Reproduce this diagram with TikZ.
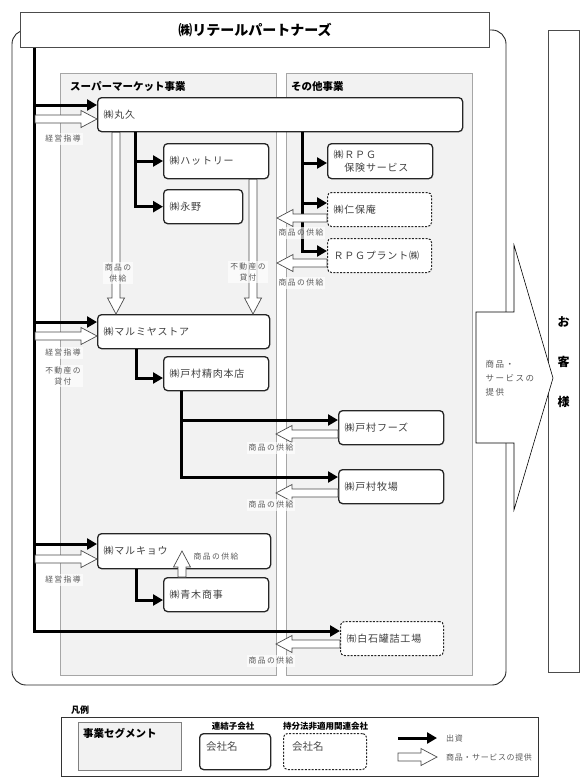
\documentclass[tikz,border=0pt]{standalone}
\usepackage{fontspec}
\setmainfont{Noto Sans CJK JP}
\newfontfamily\cofont[LetterSpace=8]{Noto Sans CJK JP}
\newfontfamily\lbfont[LetterSpace=18]{Noto Sans CJK JP}
\usetikzlibrary{arrows.meta,calc}
\definecolor{panelgray}{HTML}{F2F2F2}
\definecolor{paneledge}{HTML}{A6A6A6}
\tikzset{
  co/.style={draw=black!85, line width=1.3pt, rounded corners=4pt, fill=white,
    anchor=north west, inner xsep=6pt, inner ysep=0pt, align=left,
    font=\cofont\fontsize{10}{13}\selectfont, text=black!75},
  eq/.style={co, dash pattern=on 2pt off 1.4pt, line width=1pt},
  panel/.style={draw=paneledge, line width=0.8pt, fill=panelgray, anchor=north west, inner sep=0pt},
  seglbl/.style={anchor=west, inner sep=2pt, font=\bfseries\fontsize{10.5}{12}\selectfont},
  lbl/.style={font=\lbfont\fontsize{7.8}{11}\selectfont, text=black!65, fill=white,
    fill opacity=0.65, text opacity=1, inner sep=2pt, align=center},
  leglbl/.style={anchor=west, inner sep=1pt, font=\cofont\fontsize{8}{10}\selectfont, text=black!65},
  inv/.style={line width=3pt, -{Triangle[length=10pt,width=11pt]}},
  hollowline/.style={draw=black!70, line width=0.7pt, fill=white, line join=miter},
}
\newcommand\harr[2]{%
  \coordinate (hA) at (#1);
  \coordinate (hB) at (#2);
  \coordinate (hH) at ($(hB)!16pt!(hA)$);
  \draw[hollowline] ($(hA)!4pt!90:(hB)$) -- ($(hH)!4pt!-90:(hA)$) -- ($(hH)!8.5pt!-90:(hA)$)
    -- (hB) -- ($(hH)!8.5pt!90:(hA)$) -- ($(hH)!4pt!90:(hA)$) -- ($(hA)!4pt!-90:(hB)$) -- cycle;
}
\begin{document}
\begin{tikzpicture}[x=1pt,y=-1pt]
\useasboundingbox (0,0) rectangle (587,782);
% outer group frame
\draw[line width=0.9pt, rounded corners=14pt, draw=black!85] (12,30) rectangle (506,685);
% segment panels
\node[panel, minimum width=216, minimum height=602] (smpanel) at (60,73) {};
\node[panel, minimum width=186, minimum height=602] (otpanel) at (286,73) {};
\node[seglbl] (smlbl) at (68,87) {スーパーマーケット事業};
\node[seglbl] (otlbl) at (289,87) {その他事業};
% title
\node[draw=black!70, fill=white, line width=0.8pt, minimum width=469, minimum height=35,
  anchor=north west, font=\bfseries\fontsize{14}{16}\selectfont] (title) at (20,12) {㈱リテールパートナーズ};
% customers
\node[draw=black!70, line width=0.8pt, minimum width=31, minimum height=642, anchor=north west, inner sep=0pt] (cust) at (548,30) {};
\node[align=center, font=\bfseries\fontsize{12}{40}\selectfont] (custtxt) at (563.5,362) {お\\客\\様};
% big arrow to customers
\draw[line width=0.6pt, fill=white] (476,312) -- (514,312) -- (514,245) -- (553,378) -- (514,510) -- (514,443) -- (476,443) -- cycle;
\node[anchor=west, align=left, font=\lbfont\fontsize{8.5}{14}\selectfont, text=black!65] (prov) at (482,378) {商品・\\サービスの\\提供};
% companies
\node[co, minimum width=365, minimum height=34, text width=353] (maruhisa) at (97,97) {㈱丸久};
\node[co, minimum width=105, minimum height=35, text width=93] (hattori) at (163,143) {㈱ハットリー};
\node[co, minimum width=79, minimum height=34, text width=67] (nagano) at (163,189) {㈱永野};
\node[co, minimum width=172, minimum height=34, text width=160] (marumiya) at (97,314) {㈱マルミヤストア};
\node[co, minimum width=105, minimum height=34, text width=93] (seiniku) at (163,356) {㈱戸村精肉本店};
\node[co, minimum width=105, minimum height=34, text width=93] (foods) at (338,410) {㈱戸村フーズ};
\node[co, minimum width=105, minimum height=34, text width=93] (bokujo) at (338,469) {㈱戸村牧場};
\node[co, minimum width=173, minimum height=35, text width=161] (marukyo) at (97,533) {㈱マルキョウ};
\node[co, minimum width=105, minimum height=34, text width=93] (aoki) at (163,577) {㈱青木商事};
\node[co, minimum width=105, minimum height=35, text width=93] (rpg) at (327,143) {㈱ＲＰＧ\\　保険サービス};
\node[eq, minimum width=104, minimum height=34, text width=92] (jinboan) at (327,192) {㈱仁保庵};
\node[eq, minimum width=104, minimum height=34, text width=92] (plant) at (327,238) {ＲＰＧプラント㈱};
\node[eq, minimum width=103, minimum height=34, text width=91] (shiraishi) at (340,621) {㈲白石罐詰工場};
% investment lines
\coordinate (tx) at (34,0);
\coordinate (bx1) at (135,0);
\coordinate (bx2) at (302,0);
\coordinate (bx3) at (136,0);
\coordinate (bx4) at (181,0);
\draw[inv] (title.south -| tx) |- (shiraishi.west |- 0,631);
\draw[inv] (tx |- 0,105) -- (maruhisa.west |- 0,105);
\draw[inv] (tx |- 0,322) -- (marumiya.west |- 0,322);
\draw[inv] (tx |- 0,544) -- (marukyo.west |- 0,544);
\draw[inv] (maruhisa.south -| bx1) |- (nagano.west);
\draw[inv] (bx1 |- 0,161) -- (hattori.west |- 0,161);
\draw[inv] (maruhisa.south -| bx2) |- (plant.west |- 0,251);
\draw[inv] (bx2 |- 0,163) -- (rpg.west |- 0,163);
\draw[inv] (bx2 |- 0,203) -- (jinboan.west |- 0,203);
\draw[inv] (marumiya.south -| bx3) |- (seiniku.west |- 0,378);
\draw[inv] (seiniku.south -| bx4) |- (bokujo.west |- 0,477);
\draw[inv] (bx4 |- 0,420) -- (foods.west |- 0,420);
\draw[inv] (marukyo.south -| bx3) |- (aoki.west |- 0,600);
% supply / service arrows
\harr{35,119}{maruhisa.west |- 0,119}
\harr{35,336}{marumiya.west |- 0,336}
\harr{35,559}{marukyo.west |- 0,559}
\harr{maruhisa.south -| 116,0}{marumiya.north -| 116,0}
\harr{hattori.south -| 253,0}{marumiya.north -| 253,0}
\harr{jinboan.west |- 0,218}{277,218}
\harr{plant.west |- 0,263}{277,263}
\harr{foods.west |- 0,434}{276,434}
\harr{bokujo.west |- 0,493}{276,493}
\harr{shiraishi.west |- 0,644}{276,644}
\harr{aoki.north -| 182,0}{182,551}
% labels
\node[lbl] (lk1) at (63,139) {経営指導};
\node[lbl] (lk2) at (63,353) {経営指導};
\node[lbl] (lk3) at (63,376) {不動産の\\貸付};
\node[lbl] (lk4) at (63,580) {経営指導};
\node[lbl] (ls1) at (118,273) {商品の\\供給};
\node[lbl] (ls2) at (248,272) {不動産の\\貸付};
\node[lbl] (ls3) at (301,233) {商品の供給};
\node[lbl] (ls4) at (301,283) {商品の供給};
\node[lbl] (ls5) at (271,448) {商品の供給};
\node[lbl] (ls6) at (271,505) {商品の供給};
\node[lbl] (ls7) at (216,557) {商品の供給};
\node[lbl] (ls8) at (271,661) {商品の供給};
% legend
\node[anchor=west, inner sep=1pt, font=\bfseries\fontsize{9}{10}\selectfont] (hanrei) at (70,710) {凡例};
\node[draw=black!80, line width=0.8pt, minimum width=477, minimum height=59, anchor=north west, inner sep=0pt] (legbox) at (61,717) {};
\node[panel, draw=black!50, minimum width=103, minimum height=48] (legseg) at (78,722) {};
\node[seglbl, anchor=west] (legsegtxt) at (81,733) {事業セグメント};
\node[font=\bfseries\fontsize{8.5}{10}\selectfont, inner sep=1pt] (legcolbl) at (233,726) {連結子会社};
\node[co, minimum width=71, minimum height=36, text width=59] (legco) at (199,733) {};
\node[anchor=west, inner sep=1pt, font=\fontsize{10.5}{12}\selectfont, text=black!70] (legcotxt) at (205,746) {会社名};
\node[font=\bfseries\fontsize{8.5}{10}\selectfont, inner sep=1pt] (legeqlbl) at (325.5,726) {持分法非適用関連会社};
\node[eq, minimum width=83, minimum height=36, text width=71] (legeq) at (283,733) {};
\node[anchor=west, inner sep=1pt, font=\fontsize{10.5}{12}\selectfont, text=black!70] (legeqtxt) at (291,746) {会社名};
\coordinate (la1) at (398,738);
\coordinate (la2) at (437,738);
\draw[inv] (la1) -- (la2);
\node[leglbl] (legl1) at (445,738) {出資};
\harr{398,757}{437,757}
\node[leglbl] (legl2) at (445,757) {商品・サービスの提供};
\end{tikzpicture}
\end{document}
